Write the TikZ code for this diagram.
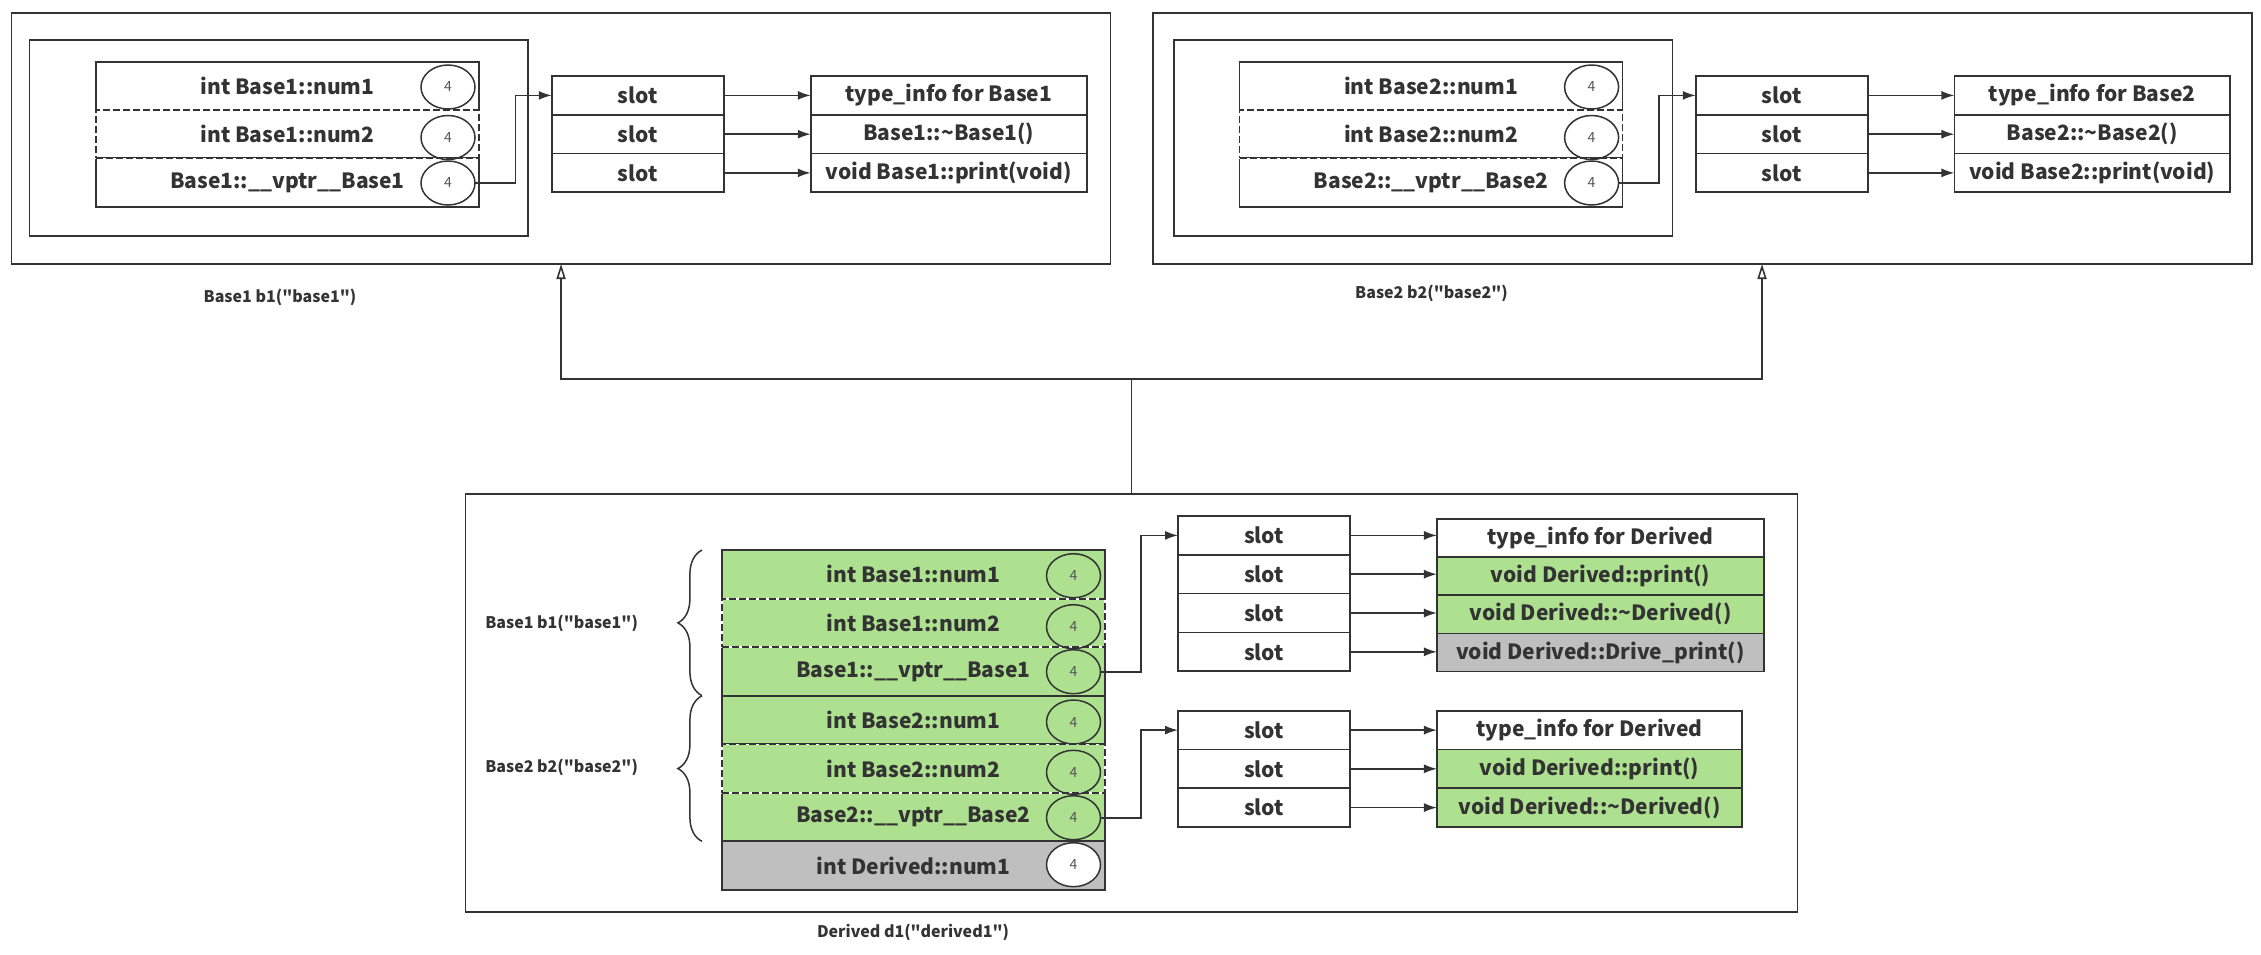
\documentclass[tikz,border=0pt]{standalone}
\usepackage{fontspec}
\setmainfont{Noto Sans CJK SC}[Ligatures=TeXOff]
\usetikzlibrary{arrows.meta,shapes.geometric,decorations.pathreplacing,calc}
\definecolor{ln}{HTML}{333333}
\definecolor{txt}{HTML}{333333}
\definecolor{grn}{HTML}{ADE190}
\definecolor{gry}{HTML}{BFBFBF}
\definecolor{numc}{HTML}{555555}
\newcommand\fieldfont{\bfseries\fontsize{21}{21}\selectfont}
\newcommand\numfont{\fontsize{14}{14}\selectfont}
\newcommand\lblfont{\bfseries\fontsize{16}{16}\selectfont}
\tikzset{
  box/.style={draw=ln, line width=1.7pt, inner sep=0pt, outer sep=0pt},
  field/.style={box, minimum width=383pt, minimum height=48.4pt, font=\fieldfont, text=txt},
  dfield/.style={field, draw=white, postaction={draw=ln, dash pattern=on 7pt off 3pt}},
  slotbox/.style={box, minimum width=172pt, minimum height=38.8pt, font=\fieldfont, text=txt},
  fnbox/.style={box, minimum height=38.8pt, font=\fieldfont, text=txt},
  num/.style={draw=ln, line width=1.5pt, ellipse, minimum width=54pt, minimum height=44pt, inner sep=0pt, outer sep=0pt, font=\numfont, text=numc},
  link/.style={draw=ln, line width=1.6pt, -{Latex[length=13pt,width=9pt]}},
  inh/.style={draw=ln, line width=1.6pt, -{Triangle[open,length=15pt,width=9pt]}},
  plain/.style={draw=ln, line width=1.4pt},
  lbl/.style={font=\lblfont, text=txt, inner sep=0pt},
  brc/.style={draw=ln, line width=1.5pt, decorate, decoration={brace, amplitude=24pt, aspect=0.5}},
}
\begin{document}
\begin{tikzpicture}[x=1pt, y=-1pt]
\useasboundingbox (0,0) rectangle (2261,954);

% ---------- Base1 object ----------
\node[box, minimum width=1099pt, minimum height=251.3pt] (b1out) at (561.05,138.35) {};
\node[box, minimum width=498.5pt, minimum height=196pt] (b1in) at (278.75,138) {};
\node[field] (a1) at (287.5,85.9) {int Base1::num1};
\node[field] (a3) at (287.5,182.5) {Base1::\_\_vptr\_\_Base1};
\node[dfield] (a2) at (287.5,134.2) {int Base1::num2};
\node[num] (ac1) at (448,87) {4};
\node[num] (ac2) at (448,137.5) {4};
\node[num] (ac3) at (448,183) {4};
\node[slotbox] (as1) at (637.75,95.4) {slot};
\node[slotbox] (as2) at (637.75,134.2) {slot};
\node[slotbox] (as3) at (637.75,172.9) {slot};
\node[fnbox, minimum width=276pt] (at1) at (948.75,95.4) {type\_info for Base1};
\node[fnbox, minimum width=276pt] (at2) at (948.75,134.2) {Base1::\textasciitilde Base1()};
\node[fnbox, minimum width=276pt] (at3) at (948.75,172.9) {void Base1::print(void)};
\foreach \i in {1,2,3} \draw[link] (as\i.east) -- (as\i.east -| at\i.west);
\draw[link] (ac3.east) -- ([xshift=40.5pt]ac3.east) |- (as1.west);
\node[lbl] (lb1) at (280,297.5) {Base1 b1("base1")};

% ---------- Base2 object ----------
\node[box, minimum width=1099pt, minimum height=251.3pt] (b2out) at (1702.5,138.35) {};
\node[box, minimum width=498.4pt, minimum height=196pt] (b2in) at (1423.2,138) {};
\node[field] (b1) at (1431.1,85.9) {int Base2::num1};
\node[field] (b3) at (1431.1,182.5) {Base2::\_\_vptr\_\_Base2};
\node[dfield] (b2) at (1431.1,134.2) {int Base2::num2};
\node[num] (bc1) at (1591.6,87) {4};
\node[num] (bc2) at (1591.6,137.5) {4};
\node[num] (bc3) at (1591.6,183) {4};
\node[slotbox] (bs1) at (1781.75,95.4) {slot};
\node[slotbox] (bs2) at (1781.75,134.2) {slot};
\node[slotbox] (bs3) at (1781.75,172.9) {slot};
\node[fnbox, minimum width=275.6pt] (bt1) at (2092.2,95.4) {type\_info for Base2};
\node[fnbox, minimum width=275.6pt] (bt2) at (2092.2,134.2) {Base2::\textasciitilde Base2()};
\node[fnbox, minimum width=275.6pt] (bt3) at (2092.2,172.9) {void Base2::print(void)};
\foreach \i in {1,2,3} \draw[link] (bs\i.east) -- (bs\i.east -| bt\i.west);
\draw[link] (bc3.east) -- ([xshift=40.5pt]bc3.east) |- (bs1.west);
\node[lbl] (lb2) at (1431.5,293.3) {Base2 b2("base2")};

% ---------- Derived object ----------
\node[box, minimum width=1332pt, minimum height=417.7pt] (dout) at (1131.6,702.85) {};
\node[field, fill=grn] (d1) at (913.4,574.3) {int Base1::num1};
\node[field, fill=grn] (d3) at (913.4,671.4) {Base1::\_\_vptr\_\_Base1};
\node[field, fill=grn] (d4) at (913.4,720) {int Base2::num1};
\node[field, fill=grn] (d6) at (913.4,817.1) {Base2::\_\_vptr\_\_Base2};
\node[field, fill=gry] (d7) at (913.4,865.7) {int Derived::num1};
\node[dfield, fill=grn] (d2) at (913.4,622.9) {int Base1::num2};
\node[dfield, fill=grn] (d5) at (913.4,768.6) {int Base2::num2};
\node[num] (dc1) at (1073.5,575.7) {4};
\node[num] (dc2) at (1073.5,626.7) {4};
\node[num] (dc3) at (1073.5,671.7) {4};
\node[num] (dc4) at (1073.5,722) {4};
\node[num] (dc5) at (1073.5,772.3) {4};
\node[num] (dc6) at (1073.5,817.7) {4};
\node[num, fill=white] (dc7) at (1073.5,864.7) {4};

% braces grouping the two base sub-objects
\draw[brc] ([xshift=-20pt]d3.south west) -- ([xshift=-20pt]d1.north west);
\draw[brc] ([xshift=-20pt]d6.south west) -- ([xshift=-20pt]d4.north west);
\node[lbl] (lbd1) at (561.6,623.3) {Base1 b1("base1")};
\node[lbl] (lbd2) at (561.6,767.3) {Base2 b2("base2")};

% first vtable of Derived
\node[slotbox] (ds1) at (1264,535.4) {slot};
\node[slotbox] (ds2) at (1264,574.2) {slot};
\node[slotbox] (ds3) at (1264,613) {slot};
\node[slotbox] (ds4) at (1264,651.8) {slot};
\node[fnbox, minimum width=327pt, minimum height=38.1pt] (dt1) at (1600.45,538) {type\_info for Derived};
\node[fnbox, minimum width=327pt, minimum height=38.1pt, fill=grn] (dt2) at (1600.45,576.2) {void Derived::print()};
\node[fnbox, minimum width=327pt, minimum height=38.1pt, fill=grn] (dt3) at (1600.45,614.3) {void Derived::\textasciitilde Derived()};
\node[fnbox, minimum width=327pt, minimum height=38.1pt, fill=gry] (dt4) at (1600.45,652.4) {void Derived::Drive\_print()};
\foreach \i in {1,...,4} \draw[link] (ds\i.east) -- (ds\i.east -| dt\i.west);
\draw[link] (dc3.east) -- ([xshift=40.5pt]dc3.east) |- (ds1.west);

% second vtable of Derived
\node[slotbox] (es1) at (1264,730.1) {slot};
\node[slotbox] (es2) at (1264,768.8) {slot};
\node[slotbox] (es3) at (1264,807.6) {slot};
\node[fnbox, minimum width=305pt] (et1) at (1589.45,730.1) {type\_info for Derived};
\node[fnbox, minimum width=305pt, fill=grn] (et2) at (1589.45,768.8) {void Derived::print()};
\node[fnbox, minimum width=305pt, fill=grn] (et3) at (1589.45,807.6) {void Derived::\textasciitilde Derived()};
\foreach \i in {1,2,3} \draw[link] (es\i.east) -- (es\i.east -| et\i.west);
\draw[link] (dc6.east) -- ([xshift=40.5pt]dc6.east) |- (es1.west);

\node[lbl] (lbd) at (913,932.3) {Derived d1("derived1")};

% ---------- inheritance ----------
\coordinate (junc) at (1131.6,379);
\coordinate (b2in) at (1762,264);
\draw[plain] (dout.north) -- (junc);
\draw[inh] (junc) -| (b1out.south);
\draw[inh] (junc) -| (b2in);
\end{tikzpicture}
\end{document}
